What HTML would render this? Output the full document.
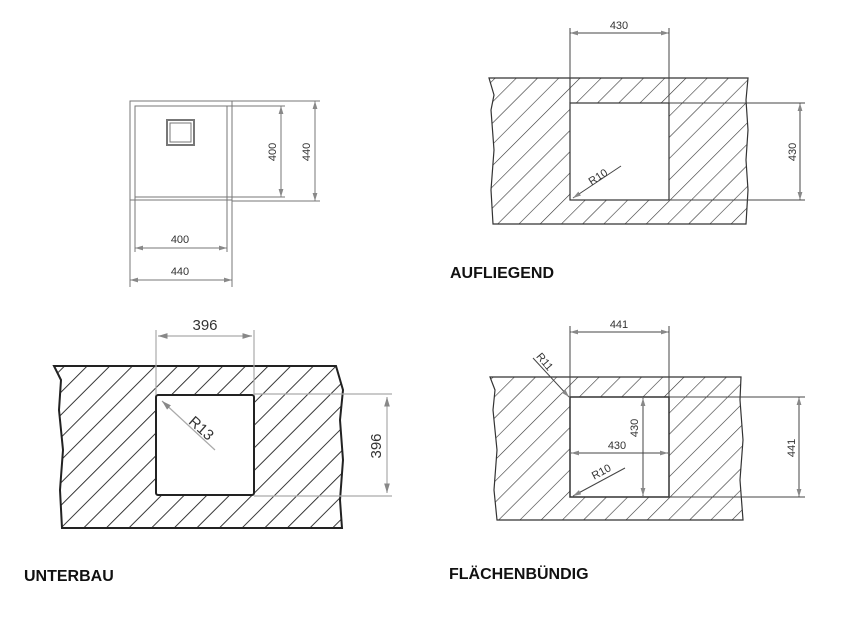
<!DOCTYPE html>
<html><head><meta charset="utf-8"><style>
html,body{margin:0;padding:0;background:#fff;width:868px;height:619px;overflow:hidden}
svg{display:block}
.l{font-family:"Liberation Sans",sans-serif;font-weight:bold;font-size:16px;fill:#111}
.d{font-family:"Liberation Sans",sans-serif;font-size:11px;fill:#333}
</style></head><body>
<svg width="868" height="619" viewBox="0 0 868 619">
<defs>
<pattern id="h" patternUnits="userSpaceOnUse" width="15" height="15" patternTransform="rotate(45)">
<line x1="0" y1="0" x2="0" y2="15" stroke="#333" stroke-width="1.2"/>
</pattern>
<pattern id="h2" patternUnits="userSpaceOnUse" width="16" height="16" patternTransform="rotate(45)">
<line x1="0" y1="0" x2="0" y2="16" stroke="#222" stroke-width="1.8"/>
</pattern>
<marker id="a" viewBox="0 0 10 6" refX="10" refY="3" markerWidth="8" markerHeight="5" orient="auto-start-reverse"><path d="M0,0 L10,3 L0,6 Z" fill="#888"/></marker>
</defs>

<!-- Top-left sink -->
<g stroke="#777" fill="none" stroke-width="1">
<rect x="130" y="101" width="102" height="99"/>
<rect x="135" y="106" width="92" height="91"/>
<line x1="130" y1="200" x2="130" y2="287"/><line x1="232" y1="200" x2="232" y2="287"/>
<rect x="167" y="120" width="27" height="25" stroke-width="2"/>
<rect x="170" y="123" width="21" height="19"/>
<line x1="232" y1="101" x2="320" y2="101"/><line x1="232" y1="201" x2="320" y2="201"/>
<line x1="227" y1="106" x2="285" y2="106"/><line x1="227" y1="197" x2="285" y2="197"/>
<line x1="281" y1="106" x2="281" y2="197" marker-start="url(#a)" marker-end="url(#a)"/>
<line x1="315" y1="101" x2="315" y2="201" marker-start="url(#a)" marker-end="url(#a)"/>
<line x1="135" y1="248" x2="227" y2="248" marker-start="url(#a)" marker-end="url(#a)"/>
<line x1="130" y1="280" x2="232" y2="280" marker-start="url(#a)" marker-end="url(#a)"/>
<line x1="135" y1="197" x2="135" y2="252"/><line x1="227" y1="197" x2="227" y2="252"/>
</g>
<text class="d" x="180" y="243" text-anchor="middle">400</text>
<text class="d" x="180" y="275" text-anchor="middle">440</text>
<text class="d" transform="translate(276,152) rotate(-90)" text-anchor="middle">400</text>
<text class="d" transform="translate(310,152) rotate(-90)" text-anchor="middle">440</text>

<!-- Aufliegend -->
<path d="M489,78 L748,78 L746,100 L748,130 L746,160 L748,190 L746,224 L493,224 L491,190 L494,150 L491,110 L494,95 Z" fill="url(#h)" stroke="#333" stroke-width="1.2"/>
<rect x="570" y="103" width="99" height="97" fill="#fff" stroke="#333" stroke-width="1.2"/>
<line x1="570" y1="78" x2="570" y2="103" stroke="#333" stroke-width="1.2"/>
<g stroke="#444" fill="none" stroke-width="1">
<line x1="570" y1="28" x2="570" y2="103"/><line x1="669" y1="28" x2="669" y2="103"/>
<line x1="570" y1="33" x2="669" y2="33" marker-start="url(#a)" marker-end="url(#a)"/>
<line x1="669" y1="103" x2="805" y2="103"/><line x1="669" y1="200" x2="805" y2="200"/>
<line x1="800" y1="103" x2="800" y2="200" marker-start="url(#a)" marker-end="url(#a)"/>
<line x1="621" y1="166" x2="573" y2="198" marker-end="url(#a)"/>
</g>
<text class="d" x="619" y="29" text-anchor="middle">430</text>
<text class="d" transform="translate(796,152) rotate(-90)" text-anchor="middle">430</text>
<text class="d" transform="translate(600,180) rotate(-33)" text-anchor="middle">R10</text>
<text class="l" x="450" y="278">AUFLIEGEND</text>

<!-- Unterbau -->
<path d="M54,366 L336,366 L343,390 L340,420 L343,460 L340,500 L342,528 L62,528 L60,490 L63,450 L59,410 L61,380 Z" fill="url(#h2)" stroke="#222" stroke-width="2"/>
<rect x="156" y="395" width="98" height="100" rx="2" fill="#fff" stroke="#222" stroke-width="2"/>
<g stroke="#aaa" fill="none" stroke-width="1.2">
<line x1="156" y1="330" x2="156" y2="395"/><line x1="254" y1="330" x2="254" y2="395"/>
<line x1="158" y1="336" x2="252" y2="336" marker-start="url(#a)" marker-end="url(#a)"/>
<line x1="254" y1="394" x2="392" y2="394"/><line x1="254" y1="496" x2="392" y2="496"/>
<line x1="387" y1="397" x2="387" y2="493" marker-start="url(#a)" marker-end="url(#a)"/>
<line x1="215" y1="450" x2="162" y2="401" marker-end="url(#a)"/>
</g>
<text class="d" style="font-size:15px" x="205" y="330" text-anchor="middle">396</text>
<text class="d" style="font-size:15px" transform="translate(381,446) rotate(-90)" text-anchor="middle">396</text>
<text class="d" style="font-size:15px" transform="translate(198,432) rotate(42)" text-anchor="middle">R13</text>
<text class="l" x="24" y="581">UNTERBAU</text>

<!-- Flächenbündig -->
<path d="M490,377 L741,377 L740,400 L743,440 L740,480 L743,520 L497,520 L494,490 L497,450 L493,410 L495,390 Z" fill="url(#h)" stroke="#333" stroke-width="1.2"/>
<rect x="570" y="397" width="99" height="100" fill="#fff" stroke="#333" stroke-width="1.5"/>
<g stroke="#444" fill="none" stroke-width="1">
<line x1="570" y1="326" x2="570" y2="397"/><line x1="669" y1="326" x2="669" y2="397"/>
<line x1="570" y1="332" x2="669" y2="332" marker-start="url(#a)" marker-end="url(#a)"/>
<line x1="669" y1="397" x2="805" y2="397"/><line x1="669" y1="497" x2="805" y2="497"/>
<line x1="799" y1="397" x2="799" y2="497" marker-start="url(#a)" marker-end="url(#a)"/>
<line x1="643" y1="398" x2="643" y2="496" marker-start="url(#a)" marker-end="url(#a)"/>
<line x1="571" y1="453" x2="668" y2="453" marker-start="url(#a)" marker-end="url(#a)"/>
<line x1="533" y1="358" x2="569" y2="397" marker-end="url(#a)"/>
<line x1="625" y1="468" x2="573" y2="496" marker-end="url(#a)"/>
</g>
<text class="d" x="619" y="328" text-anchor="middle">441</text>
<text class="d" x="617" y="449" text-anchor="middle">430</text>
<text class="d" transform="translate(638,428) rotate(-90)" text-anchor="middle">430</text>
<text class="d" transform="translate(795,448) rotate(-90)" text-anchor="middle">441</text>
<text class="d" transform="translate(603,475) rotate(-28)" text-anchor="middle">R10</text>
<text class="d" transform="translate(542,364) rotate(50)" text-anchor="middle">R11</text>
<text class="l" x="449" y="579">FLÄCHENBÜNDIG</text>
</svg>
</body></html>
